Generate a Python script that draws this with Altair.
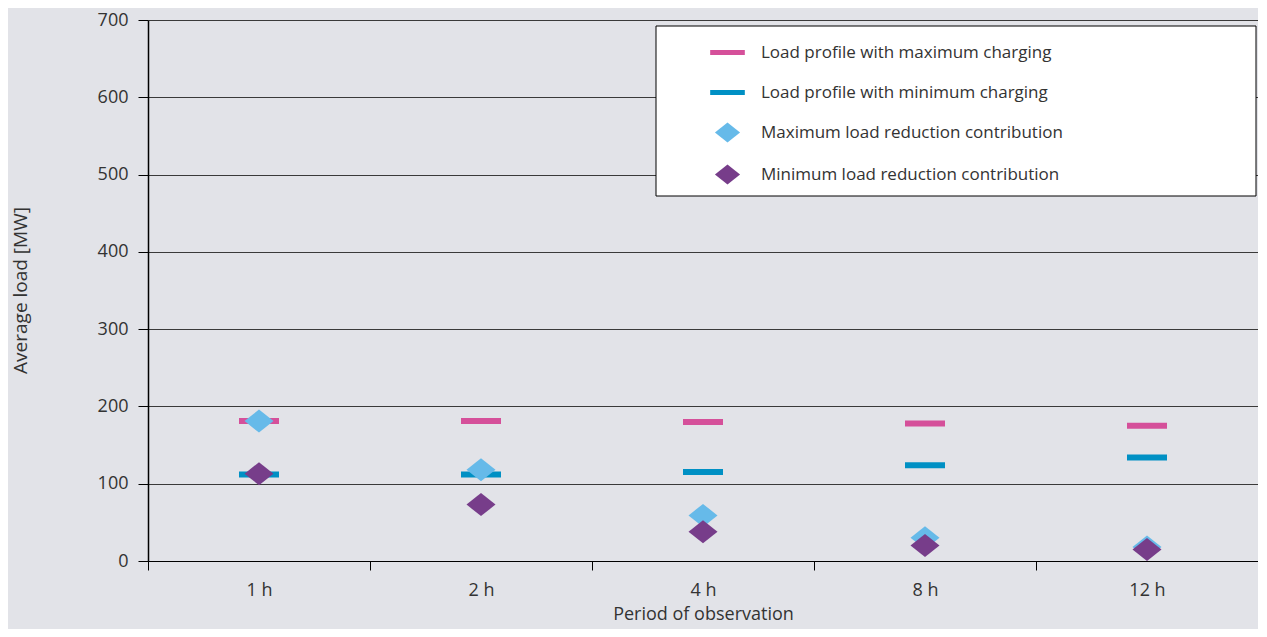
import altair as alt
import pandas as pd

periods = ["1 h", "2 h", "4 h", "8 h", "12 h"]
series_names = [
    "Load profile with maximum charging",
    "Load profile with minimum charging",
    "Maximum load reduction contribution",
    "Minimum load reduction contribution",
]
max_charging = [181, 181, 180, 178, 175]
min_charging = [112, 112, 115, 124, 134]
max_reduction = [181, 118, 59, 30, 18]
min_reduction = [113, 73, 38, 20, 15]
colors = ["#D5509A", "#0090C4", "#66BAE9", "#773D8A"]
y_ticks = [0, 100, 200, 300, 400, 500, 600, 700]

rows = []
for name, vals in zip(series_names, [max_charging, min_charging, max_reduction, min_reduction]):
    for p, v in zip(periods, vals):
        rows.append({"period": p, "series": name, "load": v})
df = pd.DataFrame(rows)

bar_path = "M-1,-0.15L1,-0.15L1,0.15L-1,0.15Z"
diamond_path = "M-0.725,0L0,-0.575L0.725,0L0,0.575Z"
shapes = [bar_path, bar_path, diamond_path, diamond_path]

FONT = "Open Sans"
TXT = "#333333"

legend = alt.Legend(
    title=None, orient="none", legendX=508, legendY=6,
    padding=9, symbolSize=1200, symbolOffset=45, labelOffset=16,
    rowPadding=14, labelFontSize=17, labelFont=FONT, labelColor=TXT,
    labelLimit=900, symbolStrokeWidth=0, symbolOpacity=1,
)

# white frame behind the legend
legend_frame = alt.Chart(alt.Data(values=[{}])).mark_rect(
    fill="white", stroke="black", strokeWidth=1
).encode(
    x=alt.value(508), x2=alt.value(1108), y=alt.value(6), y2=alt.value(176)
)

points = alt.Chart(df).mark_point(filled=True, opacity=1, size=1600, strokeWidth=0).encode(
    x=alt.X("period:N", sort=periods,
            scale=alt.Scale(type="band", paddingInner=0, paddingOuter=0),
            axis=alt.Axis(title="Period of observation", labelAngle=0, tickBand="extent",
                          tickSize=9, tickColor="black", domainColor="black", domainWidth=1,
                          labelPadding=11, labelFontSize=18, labelFont=FONT, labelColor=TXT,
                          titleFontSize=18, titleFont=FONT, titleColor=TXT, titleFontWeight="normal",
                          titleY=53, titleBaseline="middle", grid=False)),
    y=alt.Y("load:Q", scale=alt.Scale(domain=[0, 700]),
            axis=alt.Axis(title="Average load [MW]", values=y_ticks, tickSize=10, tickColor="black",
                          domainColor="black", domainWidth=1.5, labelPadding=10,
                          labelFontSize=18, labelFont=FONT, labelColor=TXT,
                          titleFontSize=19, titleFont=FONT, titleColor=TXT, titleFontWeight="normal",
                          titleX=-128, titleY=270, titleBaseline="middle",
                          grid=True, gridColor="#3a3a3a", gridWidth=1)),
    color=alt.Color("series:N", scale=alt.Scale(domain=series_names, range=colors), legend=legend),
    shape=alt.Shape("series:N", scale=alt.Scale(domain=series_names, range=shapes), legend=legend),
)

chart = alt.layer(legend_frame, points).properties(
    width=1110, height=541,
    autosize=alt.AutoSizeParams(type="none"),
    padding={"left": 140, "top": 12, "right": 0, "bottom": 68},
    background="#E2E3E8",
).configure_view(stroke=None)

chart.save("out.html", embed_options={"renderer": "svg", "actions": False})
